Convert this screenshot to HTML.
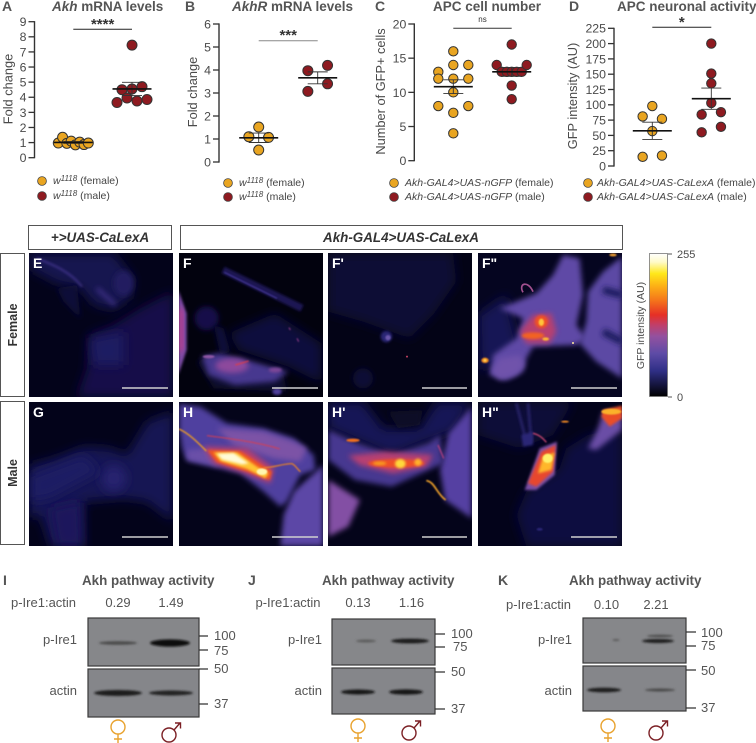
<!DOCTYPE html>
<html lang="en">
<head>
<meta charset="utf-8">
<title>Akh neuron activity figure</title>
<style>
html,body{margin:0;padding:0;background:#fff;width:756px;height:743px;overflow:hidden}
svg text{font-family:"Liberation Sans",Arial,sans-serif;fill:#4a4a4a}
.pl{font-weight:700;font-size:14px;fill:#555}
.ti{font-weight:700;font-size:13.5px;fill:#555}
.lg{font-size:10.5px;fill:#444}
.lgi{font-style:italic}
.wl{font-size:13px;fill:#555}
.pn{font-weight:700;font-size:14px;fill:#fff}
.bt{font-weight:700;font-size:13.4px;fill:#555}
.hd{font-weight:700;font-style:italic;font-size:13.4px;fill:#333;text-anchor:middle}
</style>
</head>
<body>
<svg id="figure" xmlns="http://www.w3.org/2000/svg" width="756" height="743" viewBox="0 0 756 743">
<defs>
<filter id="f2" x="-30%" y="-30%" width="160%" height="160%"><feGaussianBlur stdDeviation="2"/></filter>
<filter id="f4" x="-30%" y="-30%" width="160%" height="160%"><feGaussianBlur stdDeviation="4"/></filter>
<filter id="f8" x="-30%" y="-30%" width="160%" height="160%"><feGaussianBlur stdDeviation="8"/></filter>
<filter id="f16" x="-30%" y="-30%" width="160%" height="160%"><feGaussianBlur stdDeviation="16"/></filter>
<filter id="bb" x="-40%" y="-200%" width="180%" height="500%"><feGaussianBlur stdDeviation="1"/></filter>
<linearGradient id="cbar" x1="0" y1="1" x2="0" y2="0">
<stop offset="0" stop-color="#000"/><stop offset=".08" stop-color="#14143c"/><stop offset=".18" stop-color="#2f2f86"/>
<stop offset=".3" stop-color="#5d4ba6"/><stop offset=".42" stop-color="#93519f"/><stop offset=".5" stop-color="#c03f6a"/>
<stop offset=".57" stop-color="#e62f26"/><stop offset=".68" stop-color="#f57a1a"/><stop offset=".78" stop-color="#fdb515"/>
<stop offset=".86" stop-color="#ffe81a"/><stop offset=".94" stop-color="#fffbc8"/><stop offset="1" stop-color="#fff"/>
</linearGradient>
</defs>

<!-- panel letters and titles -->
<g>
<text class="pl" x="2" y="11">A</text>
<text class="pl" x="185" y="11">B</text>
<text class="pl" x="375" y="11">C</text>
<text class="pl" x="569" y="11">D</text>
<text class="ti" x="52" y="11"><tspan font-style="italic">Akh</tspan> mRNA levels</text>
<text class="ti" x="232" y="11"><tspan font-style="italic">AkhR</tspan> mRNA levels</text>
<text class="ti" x="433" y="11">APC cell number</text>
<text class="ti" x="617" y="11">APC neuronal activity</text>
</g>

<g id="charts"></g>

<!-- legends -->
<g>
<circle cx="42" cy="181" r="4.4" fill="#e9a521" stroke="#444" stroke-width=".8"/>
<text class="lg" x="53" y="184"><tspan class="lgi">w</tspan><tspan class="lgi" font-size="8" dy="-3">1118</tspan><tspan dy="3"> (female)</tspan></text>
<circle cx="42" cy="196" r="4.4" fill="#8e1a20" stroke="#444" stroke-width=".8"/>
<text class="lg" x="53" y="199"><tspan class="lgi">w</tspan><tspan class="lgi" font-size="8" dy="-3">1118</tspan><tspan dy="3"> (male)</tspan></text>
</g>
<g>
<circle cx="228" cy="183" r="4.4" fill="#e9a521" stroke="#444" stroke-width=".8"/>
<text class="lg" x="239" y="186"><tspan class="lgi">w</tspan><tspan class="lgi" font-size="8" dy="-3">1118</tspan><tspan dy="3"> (female)</tspan></text>
<circle cx="228" cy="197" r="4.4" fill="#8e1a20" stroke="#444" stroke-width=".8"/>
<text class="lg" x="239" y="200"><tspan class="lgi">w</tspan><tspan class="lgi" font-size="8" dy="-3">1118</tspan><tspan dy="3"> (male)</tspan></text>
</g>
<g>
<circle cx="394" cy="183" r="4.4" fill="#e9a521" stroke="#444" stroke-width=".8"/>
<text class="lg" x="405" y="186"><tspan class="lgi">Akh-GAL4&gt;UAS-nGFP</tspan> (female)</text>
<circle cx="394" cy="197" r="4.4" fill="#8e1a20" stroke="#444" stroke-width=".8"/>
<text class="lg" x="405" y="200"><tspan class="lgi">Akh-GAL4&gt;UAS-nGFP</tspan> (male)</text>
</g>
<g>
<circle cx="588" cy="183" r="4.4" fill="#e9a521" stroke="#444" stroke-width=".8"/>
<text class="lg" x="597" y="186"><tspan class="lgi">Akh-GAL4&gt;UAS-CaLexA</tspan> (female)</text>
<circle cx="588" cy="197" r="4.4" fill="#8e1a20" stroke="#444" stroke-width=".8"/>
<text class="lg" x="597" y="200"><tspan class="lgi">Akh-GAL4&gt;UAS-CaLexA</tspan> (male)</text>
</g>

<!-- genotype header boxes -->
<rect x="28.5" y="225.5" width="143" height="24" fill="#fff" stroke="#555" stroke-width="1"/>
<text class="hd" x="100" y="242">+&gt;UAS-CaLexA</text>
<rect x="180.5" y="225.5" width="442" height="24" fill="#fff" stroke="#555" stroke-width="1"/>
<text class="hd" x="401" y="242">Akh-GAL4&gt;UAS-CaLexA</text>
<rect x=".5" y="253.5" width="24" height="143" fill="#fff" stroke="#555" stroke-width="1"/>
<text transform="translate(17,325) rotate(-90)" text-anchor="middle" font-weight="700" font-size="12.5" style="fill:#333">Female</text>
<rect x=".5" y="401.5" width="24" height="143" fill="#fff" stroke="#555" stroke-width="1"/>
<text transform="translate(17,473) rotate(-90)" text-anchor="middle" font-weight="700" font-size="12.5" style="fill:#333">Male</text>

<!-- micrographs: coordinates in viewBox are 3x pixel scale -->
<svg x="29" y="253" width="144" height="144" viewBox="86 114 432 432">
<rect x="86" y="114" width="432" height="432" fill="#03031a"/>
<polygon filter="url(#f16)" fill="#151149" points="230,546 260,460 265,360 340,330 420,280 518,230 518,546"/>
<polygon filter="url(#f16)" fill="#181450" points="86,114 340,114 400,190 390,250 340,285 280,270 240,220 170,205 86,160"/>
<ellipse cx="370" cy="205" rx="30" ry="38" fill="#201a60" filter="url(#f8)"/>
<polygon filter="url(#f8)" fill="#100e38" points="170,220 230,210 240,310 190,260"/>
<path d="M110,130 C160,150 210,170 245,215" fill="none" stroke="#43348e" stroke-width="5" filter="url(#f4)"/>
<path d="M290,220 L345,270" fill="none" stroke="#43328c" stroke-width="10" filter="url(#f8)"/>
<polygon filter="url(#f16)" fill="#1f1a62" points="270,370 370,350 370,450 280,450"/>
</svg>
<svg x="179" y="253" width="144" height="144" viewBox="536 114 432 432">
<rect x="536" y="114" width="432" height="432" fill="#02020e"/>
<polygon filter="url(#f16)" fill="#0f0d3c" points="684,355 824,295 964,385 964,505 864,455 714,405"/>
<polygon filter="url(#f8)" fill="#0b0a2e" points="590,440 640,420 850,480 860,530 640,520"/>
<circle cx="619" cy="310" r="36" fill="#13114a" filter="url(#f8)"/>
<polygon filter="url(#f8)" fill="#0d0c3a" points="640,330 670,340 690,410 660,420"/>
<path d="M668,165 L905,280" stroke="#1a1752" stroke-width="22" fill="none" filter="url(#f4)"/>
<path d="M672,172 L830,250" stroke="#3f3290" stroke-width="4" fill="none" filter="url(#f2)"/>
<polygon filter="url(#f4)" fill="#7d4ba6" points="534,225 559,295 559,405 534,480"/>
<polygon filter="url(#f8)" fill="#c33b86" points="536,270 548,290 548,400 536,420"/>
<polygon filter="url(#f8)" fill="#46378f" points="604,425 654,415 724,430 864,470 824,500 704,510 624,480"/>
<ellipse cx="695" cy="452" rx="50" ry="22" fill="#8d4a9c" filter="url(#f8)"/>
<ellipse cx="825" cy="465" rx="20" ry="8" fill="#7c4698" filter="url(#f4)"/>
<path d="M705,450 L745,438" stroke="#d63c50" stroke-width="4" fill="none" filter="url(#f2)"/>
<ellipse cx="625" cy="425" rx="18" ry="5" fill="#8e56a4" filter="url(#f2)"/>
<ellipse cx="830" cy="530" rx="14" ry="10" fill="#4f409c" filter="url(#f4)"/>
<path d="M866,338 L870,345 M890,370 L895,380" stroke="#a04090" stroke-width="3" filter="url(#f2)"/>
</svg>
<svg x="328" y="253" width="144" height="144" viewBox="25 114 432 432">
<rect x="25" y="114" width="432" height="432" fill="#030316"/>
<polygon filter="url(#f16)" fill="#0c0b34" points="25,114 400,114 410,200 340,300 270,370 130,320 25,290"/>
<ellipse cx="130" cy="490" rx="30" ry="30" fill="#0d0c36" filter="url(#f8)"/>
<circle cx="200" cy="365" r="17" fill="#2c2676" filter="url(#f4)"/>
<circle cx="205" cy="368" r="8" fill="#6a56aa" filter="url(#f2)"/>
<circle cx="262" cy="425" r="3" fill="#c04060"/>
</svg>
<svg x="478" y="253" width="144" height="144" viewBox="475 114 432 432">
<rect x="475" y="114" width="432" height="432" fill="#050520"/>
<polygon filter="url(#f16)" fill="#171455" points="475,300 560,240 600,400 480,470"/>
<polygon filter="url(#f8)" fill="#5f4aa6" points="540,280 650,235 700,180 730,120 780,130 790,240 770,330 800,370 770,390 640,395 620,430 610,470 560,495 510,480 520,420 590,370 610,310"/>
<polygon filter="url(#f8)" fill="#7053ab" points="515,470 540,430 600,420 615,450 590,480 540,495"/>
<polygon filter="url(#f8)" fill="#5c48a4" points="907,125 850,170 805,230 800,320 780,385 830,440 907,490"/>
<path d="M850,225 L907,240 M850,350 L907,380" stroke="#1f1b5e" stroke-width="22" fill="none" filter="url(#f8)"/>
<polygon filter="url(#f8)" fill="#b73f6f" points="600,350 640,300 695,295 710,350 690,385 620,385"/>
<ellipse cx="665" cy="320" rx="20" ry="20" fill="#ee5028" filter="url(#f4)"/>
<ellipse cx="640" cy="362" rx="34" ry="10" fill="#f26224" filter="url(#f4)"/>
<ellipse cx="665" cy="322" rx="8" ry="11" fill="#ffc53a" filter="url(#f2)"/>
<ellipse cx="678" cy="372" rx="10" ry="5" fill="#ffb730" filter="url(#f2)"/>
<path d="M610,232 C595,205 625,195 640,230" fill="none" stroke="#a2508f" stroke-width="5"/>
<ellipse cx="496" cy="436" rx="11" ry="8" fill="#f28a1e" filter="url(#f2)"/>
<ellipse cx="496" cy="436" rx="4" ry="4" fill="#ffe060" filter="url(#f2)"/>
<ellipse cx="880" cy="120" rx="11" ry="4" fill="#f3a030" filter="url(#f2)"/>
<circle cx="760" cy="384" r="3" fill="#ffe9a0"/>
</svg>

<svg x="29" y="402" width="144" height="144" viewBox="86 561 432 432">
<rect x="86" y="561" width="432" height="432" fill="#03031a"/>
<polygon filter="url(#f16)" fill="#191553" points="86,750 160,730 250,695 330,700 380,720 440,620 518,590 518,920 440,860 370,850 250,860 250,993 150,993 120,900 86,910"/>
<ellipse cx="340" cy="790" rx="38" ry="40" fill="#252070" filter="url(#f16)"/>
<polygon filter="url(#f16)" fill="#1f1a64" points="90,780 250,720 300,770 150,850 90,860"/>
<polygon filter="url(#f16)" fill="#1c175c" points="150,880 240,860 245,993 170,993"/>
</svg>
<svg x="179" y="402" width="144" height="144" viewBox="536 561 432 432">
<rect x="536" y="561" width="432" height="432" fill="#04041a"/>
<polygon filter="url(#f8)" fill="#5b47a6" points="840,993 850,900 880,830 968,750 968,993"/>
<polygon filter="url(#f8)" fill="#4f3f9f" points="536,566 600,575 680,625 790,640 880,670 940,720 945,765 900,780 860,860 840,875 790,830 720,775 640,755 560,735 545,700 536,640"/>
<polygon filter="url(#f8)" fill="#6a50a8" points="560,705 620,700 660,755 560,735"/>
<polygon filter="url(#f8)" fill="#7b52a6" points="650,640 790,650 880,680 920,700 900,740 820,730 700,690"/>
<polygon filter="url(#f8)" fill="#bb3f6c" points="610,695 740,700 820,760 810,805 720,770 640,745"/>
<polygon filter="url(#f4)" fill="#ef5522" points="620,705 720,708 815,770 808,795 740,770 650,742"/>
<polygon filter="url(#f4)" fill="#ffc530" points="640,712 710,712 770,755 805,775 795,790 740,762 660,738"/>
<polygon filter="url(#f4)" fill="#fffbd8" points="650,716 700,714 745,745 725,748 665,734"/>
<ellipse cx="785" cy="770" rx="16" ry="10" fill="#fff6b0" filter="url(#f2)"/>
<path d="M536,642 C565,655 590,680 618,708" fill="none" stroke="#f2a020" stroke-width="4" filter="url(#f2)"/>
<path d="M620,662 C700,672 790,685 838,702" fill="none" stroke="#d83c50" stroke-width="3" filter="url(#f2)"/>
<path d="M790,758 C820,758 850,745 875,746 C885,750 890,762 900,770" fill="none" stroke="#f5881e" stroke-width="3.5" filter="url(#f2)"/>
</svg>
<svg x="328" y="402" width="144" height="144" viewBox="25 561 432 432">
<rect x="25" y="561" width="432" height="432" fill="#04041a"/>
<polygon filter="url(#f16)" fill="#181556" points="25,561 130,561 190,640 300,640 350,561 457,561 400,650 216,720 25,640"/>
<polygon filter="url(#f8)" fill="#0a0a28" points="205,590 310,585 300,630 235,640"/>
<polygon filter="url(#f8)" fill="#5441a2" points="456,575 386,655 361,765 376,855 456,910"/>
<polygon filter="url(#f8)" fill="#463890" points="26,645 116,685 216,720 326,685 361,660 371,745 316,770 216,815 106,795 26,735"/>
<polygon filter="url(#f8)" fill="#834fa4" points="26,795 121,855 86,935 26,965"/>
<polygon filter="url(#f8)" fill="#b73f72" points="85,722 200,710 340,720 320,755 220,775 120,750"/>
<ellipse cx="230" cy="745" rx="85" ry="13" fill="#ef4f25" filter="url(#f4)"/>
<ellipse cx="242" cy="746" rx="16" ry="14" fill="#ffd83a" filter="url(#f4)"/>
<ellipse cx="295" cy="742" rx="11" ry="11" fill="#ffb02a" filter="url(#f4)"/>
<ellipse cx="180" cy="745" rx="20" ry="6" fill="#f79a20" filter="url(#f4)"/>
<ellipse cx="100" cy="676" rx="20" ry="5" fill="#f2701f" filter="url(#f2)"/>
<path d="M320,797 C345,800 350,835 378,855" fill="none" stroke="#f7a62a" stroke-width="5" filter="url(#f2)"/>
<path d="M355,690 L372,730" stroke="#b13f80" stroke-width="4" filter="url(#f2)"/>
</svg>
<svg x="478" y="402" width="144" height="144" viewBox="475 561 432 432">
<rect x="475" y="561" width="432" height="432" fill="#03031a"/>
<polygon filter="url(#f16)" fill="#0e0c38" points="475,561 760,561 700,660 600,700 475,660"/>
<polygon filter="url(#f16)" fill="#100e40" points="740,700 805,660 907,640 907,993 620,993 590,900 620,830 720,760"/>
<path d="M590,565 L620,680 M625,565 L635,680" stroke="#282368" stroke-width="8" filter="url(#f4)"/>
<polygon filter="url(#f4)" fill="#2a2576" points="605,660 640,650 640,690 610,695"/>
<polygon filter="url(#f4)" fill="#7a4fa5" points="615,825 660,700 712,680 705,780 650,825"/>
<polygon filter="url(#f4)" fill="#e7462e" points="625,805 665,710 708,690 700,770 650,815"/>
<polygon filter="url(#f4)" fill="#ffb72c" points="655,775 670,725 705,712 695,765"/>
<ellipse cx="684" cy="730" rx="15" ry="14" fill="#fff06a" filter="url(#f2)"/>
<polygon filter="url(#f8)" fill="#6a4da6" points="907,590 850,590 835,640 805,700 830,705 907,645"/>
<polygon filter="url(#f4)" fill="#ea4d28" points="907,572 850,585 845,605 870,635 907,610"/>
<ellipse cx="875" cy="590" rx="30" ry="9" fill="#fbb22c" filter="url(#f2)"/>
<ellipse cx="736" cy="620" rx="12" ry="3" fill="#f28a20" filter="url(#f2)"/>
<path d="M640,655 C660,660 670,670 680,682" stroke="#c84570" stroke-width="4" fill="none" filter="url(#f2)"/>
<ellipse cx="660" cy="943" rx="9" ry="4" fill="#2c2778" filter="url(#f2)"/>
</svg>

<!-- scale bars and panel letters -->
<g stroke="#d0d0d0" stroke-width="1.4">
<line x1="122" y1="388" x2="168" y2="388"/>
<line x1="272" y1="388" x2="318" y2="388"/>
<line x1="422" y1="388" x2="467" y2="388"/>
<line x1="571" y1="388" x2="617" y2="388"/>
<line x1="122" y1="537" x2="168" y2="537"/>
<line x1="272" y1="537" x2="318" y2="537"/>
<line x1="422" y1="537" x2="467" y2="537"/>
<line x1="571" y1="537" x2="617" y2="537"/>
</g>
<text class="pn" x="33" y="268">E</text>
<text class="pn" x="183" y="268">F</text>
<text class="pn" x="332" y="268">F'</text>
<text class="pn" x="482" y="268">F"</text>
<text class="pn" x="33" y="417">G</text>
<text class="pn" x="183" y="417">H</text>
<text class="pn" x="332" y="417">H'</text>
<text class="pn" x="482" y="417">H"</text>

<!-- colour bar -->
<g>
<rect x="649.5" y="253.5" width="18" height="143" fill="url(#cbar)" stroke="#777" stroke-width=".8"/>
<line x1="668" y1="254" x2="672" y2="254" stroke="#555"/>
<line x1="668" y1="397" x2="672" y2="397" stroke="#555"/>
<text x="677" y="258" font-size="11">255</text>
<text x="677" y="401" font-size="11">0</text>
<text transform="translate(644,325.5) rotate(-90)" text-anchor="middle" font-size="10.5">GFP intensity (AU)</text>
</g>

<!-- western blots -->
<g>
<text class="pl" x="3" y="585">I</text>
<text class="bt" x="82" y="585">Akh pathway activity</text>
<text class="wl" x="11" y="607">p-Ire1:actin</text>
<text class="wl" x="118" y="607" text-anchor="middle">0.29</text>
<text class="wl" x="171" y="607" text-anchor="middle">1.49</text>
<text class="wl" x="77" y="644" text-anchor="end">p-Ire1</text>
<text class="wl" x="77" y="695" text-anchor="end">actin</text>
<rect x="88" y="618" width="111" height="48" fill="#86878a" stroke="#3a3a3a" stroke-width="1.2"/>
<rect x="88" y="669" width="111" height="48" fill="#85868a" stroke="#3a3a3a" stroke-width="1.2"/>
<ellipse cx="118" cy="643" rx="19" ry="1.8" fill="#4a4a4a" filter="url(#bb)"/>
<ellipse cx="170" cy="643" rx="20" ry="3.6" fill="#0f0f0f" filter="url(#bb)"/>
<ellipse cx="118" cy="693" rx="24" ry="3" fill="#1c1c1c" filter="url(#bb)"/>
<ellipse cx="171" cy="693" rx="22" ry="2.5" fill="#222" filter="url(#bb)"/>
<path d="M199 636h9M199 650h9M199 669h9M199 704h9" stroke="#333" stroke-width="1.2"/>
<text class="wl" x="214" y="640">100</text>
<text class="wl" x="214" y="655">75</text>
<text class="wl" x="214" y="673">50</text>
<text class="wl" x="214" y="708">37</text>
<g fill="none" stroke="#e8a22e" stroke-width="1.4"><circle cx="118" cy="727" r="7"/><path d="M118 734v9M114 739h8"/></g>
<g fill="none" stroke="#7b1f24" stroke-width="1.4"><circle cx="169" cy="735" r="7"/><path d="M174 730l6-7M175 723h5.5v5.5"/></g>
</g>
<g>
<text class="pl" x="248" y="585">J</text>
<text class="bt" x="322" y="585">Akh pathway activity</text>
<text class="wl" x="255.5" y="607">p-Ire1:actin</text>
<text class="wl" x="358" y="607" text-anchor="middle">0.13</text>
<text class="wl" x="411.5" y="607" text-anchor="middle">1.16</text>
<text class="wl" x="322" y="644" text-anchor="end">p-Ire1</text>
<text class="wl" x="322" y="695" text-anchor="end">actin</text>
<rect x="332" y="619" width="103" height="46" fill="#86878a" stroke="#3a3a3a" stroke-width="1.2"/>
<rect x="332" y="668" width="103" height="46" fill="#85868a" stroke="#3a3a3a" stroke-width="1.2"/>
<ellipse cx="366" cy="641" rx="10" ry="1.4" fill="#5a5a5a" filter="url(#bb)"/>
<ellipse cx="410" cy="641" rx="19" ry="2.4" fill="#1c1c1c" filter="url(#bb)"/>
<ellipse cx="358" cy="692" rx="17" ry="2.5" fill="#161616" filter="url(#bb)"/>
<ellipse cx="406" cy="692" rx="17" ry="2.6" fill="#161616" filter="url(#bb)"/>
<path d="M435 634h10M435 647h10M435 672h10M435 709h10" stroke="#333" stroke-width="1.2"/>
<text class="wl" x="451" y="638">100</text>
<text class="wl" x="453" y="651">75</text>
<text class="wl" x="451" y="676">50</text>
<text class="wl" x="451" y="713">37</text>
<g fill="none" stroke="#e8a22e" stroke-width="1.4"><circle cx="358" cy="726" r="7"/><path d="M358 733v9M354 738h8"/></g>
<g fill="none" stroke="#7b1f24" stroke-width="1.4"><circle cx="409" cy="733" r="7"/><path d="M414 728l6-7M415 721h5.5v5.5"/></g>
</g>
<g>
<text class="pl" x="498" y="585">K</text>
<text class="bt" x="569" y="585">Akh pathway activity</text>
<text class="wl" x="506" y="609">p-Ire1:actin</text>
<text class="wl" x="606.5" y="609" text-anchor="middle">0.10</text>
<text class="wl" x="656" y="609" text-anchor="middle">2.21</text>
<text class="wl" x="572" y="644" text-anchor="end">p-Ire1</text>
<text class="wl" x="572" y="695" text-anchor="end">actin</text>
<rect x="583" y="618" width="103" height="45" fill="#86878a" stroke="#3a3a3a" stroke-width="1.2"/>
<rect x="583" y="666" width="103" height="45" fill="#85868a" stroke="#3a3a3a" stroke-width="1.2"/>
<ellipse cx="616" cy="640" rx="3.5" ry="1" fill="#5a5a5a" filter="url(#bb)"/>
<ellipse cx="658" cy="641" rx="16" ry="2" fill="#1c1c1c" filter="url(#bb)"/>
<ellipse cx="660" cy="636" rx="13" ry="1.2" fill="#4c4c4c" filter="url(#bb)"/>
<ellipse cx="604" cy="690" rx="17" ry="2.3" fill="#1a1a1a" filter="url(#bb)"/>
<ellipse cx="660" cy="690" rx="15" ry="1.5" fill="#4a4a4a" filter="url(#bb)"/>
<path d="M686 632h10M686 646h10M686 670h10M686 708h10" stroke="#333" stroke-width="1.2"/>
<text class="wl" x="701" y="637">100</text>
<text class="wl" x="701" y="650">75</text>
<text class="wl" x="701" y="675">50</text>
<text class="wl" x="701" y="712">37</text>
<g fill="none" stroke="#e8a22e" stroke-width="1.4"><circle cx="608" cy="726" r="7"/><path d="M608 733v9M604 738h8"/></g>
<g fill="none" stroke="#7b1f24" stroke-width="1.4"><circle cx="656" cy="733" r="7"/><path d="M661 728l6-7M662 721h5.5v5.5"/></g>
</g>
</svg>

<script>
// Chart data
const categories = ['female', 'male'];
const aFemale = [0.97, 1.35, 0.95, 1.1, 0.85, 1.03, 0.87, 0.97];
const aMale = [7.45, 4.5, 4.55, 4.7, 3.65, 3.95, 3.75, 3.85];
const aTicks = [0, 1, 2, 3, 4, 5, 6, 7, 8, 9];
const bFemale = [1.52, 1.1, 1.07, 0.52];
const bMale = [3.97, 4.2, 3.07, 3.4];
const bTicks = [0, 1, 2, 3, 4, 5, 6];
const cFemale = [16, 13, 14, 14, 12, 12, 12, 10, 8, 7, 8, 4];
const cMale = [17, 14, 13, 13, 13, 13, 13, 14, 11, 9];
const cTicks = [0, 5, 10, 15, 20];
const dFemale = [98, 81, 77, 57, 15, 17];
const dMale = [200, 151, 135, 103, 84, 88, 55, 64];
const dTicks = [0, 25, 50, 75, 100, 125, 150, 175, 200, 225];

const NS = 'http://www.w3.org/2000/svg';
const chartsRoot = document.getElementById('charts');
const colors = { female: '#e9a521', male: '#8e1a20' };

function mk(tag, attrs, parent) {
  const el = document.createElementNS(NS, tag);
  for (const k in attrs) el.setAttribute(k, attrs[k]);
  parent.appendChild(el);
  return el;
}
function mean(v) { return v.reduce((a, b) => a + b, 0) / v.length; }
function sem(v) {
  const m = mean(v);
  return Math.sqrt(v.reduce((a, b) => a + (b - m) * (b - m), 0) / (v.length - 1)) / Math.sqrt(v.length);
}
// Consecutive values close to the current row's mean share a row and spread sideways, like a scatter swarm.
function swarmOffsets(values, rowTol, gap, maxWidth) {
  const offs = [];
  let row = [];
  const flush = () => {
    const n = row.length;
    const step = n > 1 ? Math.min(gap, maxWidth / (n - 1)) : 0;
    for (let j = 0; j < n; j++) offs.push((j - (n - 1) / 2) * step);
    row = [];
  };
  values.forEach(v => {
    if (row.length && Math.abs(v - mean(row)) > rowTol) flush();
    row.push(v);
  });
  flush();
  return offs;
}

function drawChart(o) {
  const g = mk('g', {}, chartsRoot);
  
  
  const maxV = o.ticks[o.ticks.length - 1];
  const y = v => o.y0 + (o.yTop - o.y0) * v / maxV;
  const x = i => o.x0 + i * (o.x1 - o.x0);

  const axis = mk('line', { x1: o.axisX, x2: o.axisX, y1: y(maxV) - .6, y2: o.y0 + .6, stroke: '#333', 'stroke-width': 1.4 }, g);
  
  

  o.ticks.forEach(t => {
    const tk = mk('line', { x1: o.axisX - 6, x2: o.axisX, y1: y(t), y2: y(t), stroke: '#333', 'stroke-width': 1.3 }, g);
    
    
    const lb = mk('text', { x: o.axisX - 8, y: y(t) + 4.4, 'text-anchor': 'end', 'font-size': 12.3 }, g);
    
    
    lb.textContent = t;
  });

  const yt = mk('text', { transform: 'translate(' + o.titleX + ',' + o.titleY + ') rotate(-90)', 'text-anchor': 'middle', 'font-size': o.titleSize }, g);
  
  
  yt.textContent = o.title;

  [o.female, o.male].forEach((vals, i) => {
    const offs = swarmOffsets(vals, o.rowTol, o.gap, o.maxWidth);
    vals.forEach((v, k) => {
      const c = mk('circle', { cx: x(i) + offs[k], cy: y(v), r: o.r, fill: colors[categories[i]], stroke: '#333', 'stroke-width': 1 }, g);
      
      
    });
  });
  [o.female, o.male].forEach((vals, i) => {
    const m = mean(vals), s = sem(vals);
    const ebar = mk('path', {
      d: 'M' + x(i) + ' ' + y(m + s) + 'V' + y(m - s) +
         'M' + (x(i) - 10) + ' ' + y(m + s) + 'h20' +
         'M' + (x(i) - 10) + ' ' + y(m - s) + 'h20',
      fill: 'none', stroke: '#333', 'stroke-width': .9
    }, g);
    
    
    const ml = mk('line', { x1: x(i) - 19.5, x2: x(i) + 19.5, y1: y(m), y2: y(m), stroke: '#111', 'stroke-width': 1.6 }, g);
    
    
  });

  const br = mk('line', { x1: x(0), x2: x(1), y1: o.sigY, y2: o.sigY, stroke: o.sigColor, 'stroke-width': 1 }, g);
  
  
  const st = mk('text', { x: (x(0) + x(1)) / 2, y: o.sigTextY, 'text-anchor': 'middle', 'font-size': o.sigSize, 'font-weight': o.sig === 'ns' ? 400 : 700 }, g);
  
  
  st.style.fill = '#333';
  st.textContent = o.sig;
}

drawChart({ name: 'chart-a', female: aFemale, male: aMale, ticks: aTicks, axisX: 34.5, y0: 157.7, yTop: 21.7, x0: 73.3, x1: 132,
  title: 'Fold change', titleX: 12.5, titleY: 89, titleSize: 12.8, r: 5, rowTol: 0.6, gap: 10, maxWidth: 30,
  sig: '****', sigY: 29.3, sigTextY: 29, sigSize: 15, sigColor: '#222' });
drawChart({ name: 'chart-b', female: bFemale, male: bMale, ticks: bTicks, axisX: 219, y0: 162, yTop: 24, x0: 258.7, x1: 317.7,
  title: 'Fold change', titleX: 197, titleY: 92, titleSize: 12.8, r: 5, rowTol: 0.35, gap: 19.7, maxWidth: 30,
  sig: '***', sigY: 40.7, sigTextY: 40, sigSize: 15, sigColor: '#888' });
drawChart({ name: 'chart-c', female: cFemale, male: cMale, ticks: cTicks, axisX: 414.3, y0: 160.7, yTop: 24, x0: 453.3, x1: 511.7,
  title: 'Number of GFP+ cells', titleX: 385, titleY: 91.5, titleSize: 12.8, r: 4.7, rowTol: 1, gap: 15, maxWidth: 30,
  sig: 'ns', sigY: 28.3, sigTextY: 22, sigSize: 8, sigColor: '#333' });
drawChart({ name: 'chart-d', female: dFemale, male: dMale, ticks: dTicks, axisX: 614, y0: 166, yTop: 28.3, x0: 652.3, x1: 711.3,
  title: 'GFP intensity (AU)', titleX: 577, titleY: 96, titleSize: 12.8, r: 4.7, rowTol: 15, gap: 19.3, maxWidth: 30,
  sig: '*', sigY: 27.3, sigTextY: 27, sigSize: 15, sigColor: '#222' });
</script>
</body>
</html>
